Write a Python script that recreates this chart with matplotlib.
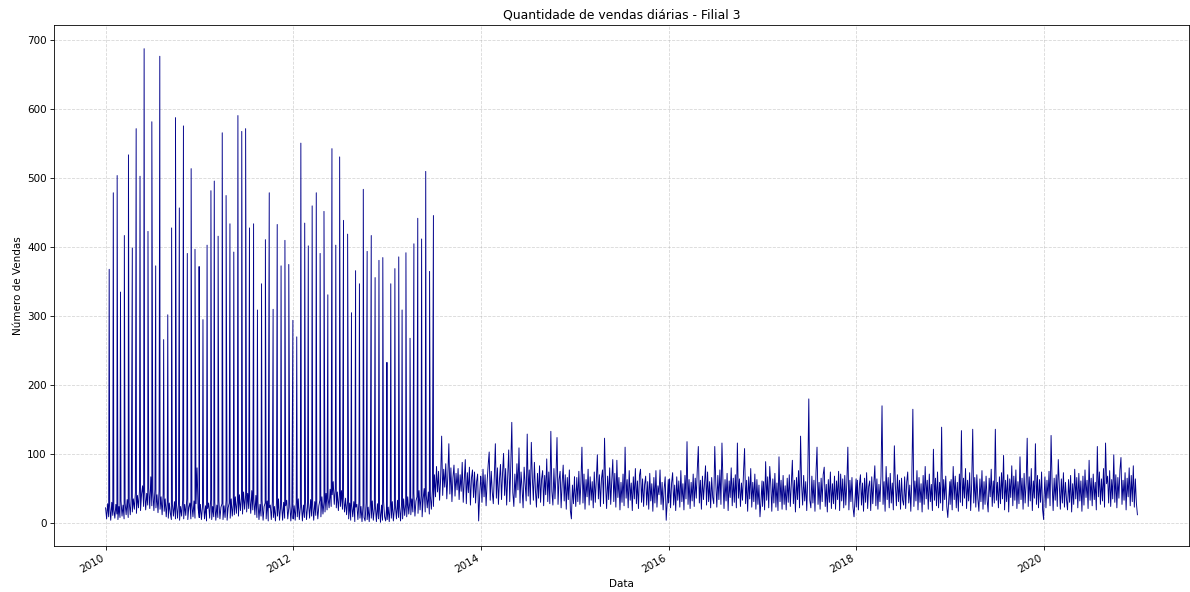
import matplotlib
matplotlib.use('Agg')
import matplotlib.pyplot as plt
import numpy as np
import pandas as pd

# vendas "de fundo", uma leitura a cada 4 dias (4 linhas = 4 trimestres por ano)
base_2010 = [22, 6, 28, 9, 25, 4, 30, 11, 20, 7, 27, 13, 5, 24, 8, 32, 10, 26, 6, 29, 12, 34, 8,
             30, 12, 38, 16, 35, 20, 44, 14, 40, 22, 48, 18, 42, 54, 24, 46, 19, 43, 26, 50, 21, 67, 25,
             45, 18, 49, 22, 41, 15, 46, 20, 38, 12, 42, 17, 35, 9, 31, 7, 29, 14, 5, 27, 10, 31, 6,
             26, 7, 30, 4, 24, 10, 33, 6, 27, 11, 35, 5, 23, 29, 6, 26, 9, 32, 7, 28, 80, 22, 8]
base_2011 = [8, 27, 5, 23, 31, 6, 25, 3, 21, 29, 7, 34, 5, 24, 9, 30, 4, 26, 8, 32, 6, 23, 28,
             5, 25, 8, 33, 4, 22, 29, 7, 35, 10, 27, 12, 38, 14, 33, 10, 41, 18, 36, 13, 45, 20, 40,
             16, 43, 21, 38, 14, 47, 19, 35, 12, 40, 8, 31, 5, 27, 10, 33, 4, 24, 29, 6, 32, 3, 22,
             26, 5, 31, 8, 24, 3, 29, 10, 35, 4, 23, 27, 4, 30, 7, 25, 33, 6, 22, 28, 3, 24, 9]
base_2012 = [6, 25, 4, 30, 9, 35, 5, 23, 28, 3, 26, 8, 32, 5, 24, 29, 7, 34, 10, 27, 4, 31, 11,
             29, 6, 25, 33, 9, 38, 13, 31, 16, 43, 19, 36, 22, 49, 24, 41, 60, 27, 50, 22, 45, 18, 42,
             24, 47, 20, 40, 16, 36, 12, 32, 6, 29, 4, 25, 9, 31, 2, 23, 27, 5, 30, 7, 24, 2, 26,
             8, 3, 29, 5, 23, 2, 27, 7, 32, 4, 21, 25, 2, 28, 6, 22, 1, 26, 4, 31, 9, 3, 24]
base_2013 = [5, 23, 2, 27, 7, 31, 3, 21, 25, 6, 33, 8, 24, 3, 29, 6, 35, 11, 27, 9, 38, 13, 31,
             12, 35, 16, 43, 10, 32, 38, 14, 47, 19, 40, 9, 35, 50, 16, 41, 22, 45, 13, 39, 20, 48, 24,
             70, 38, 82, 45, 75, 33, 64, 126, 40, 78, 52, 86, 35, 68, 115, 42, 80, 31, 66, 84, 39, 72, 48,
             79, 34, 70, 46, 88, 30, 62, 92, 28, 73, 44, 81, 26, 65, 77, 37, 74, 29, 60, 71, 3, 41, 68]
base_2014 = [66, 30, 78, 38, 70, 25, 60, 84, 103, 33, 75, 45, 28, 68, 115, 36, 80, 27, 63, 85, 34, 72, 101,
             40, 79, 26, 67, 106, 31, 82, 146, 44, 24, 71, 37, 86, 48, 109, 29, 74, 50, 22, 81, 57, 32, 129,
             39, 77, 27, 117, 65, 33, 88, 47, 23, 72, 36, 83, 30, 64, 76, 25, 69, 41, 93, 31, 74, 28, 133,
             46, 26, 79, 35, 68, 124, 27, 63, 75, 22, 58, 84, 32, 70, 20, 66, 34, 77, 18, 6, 55, 28, 67]
base_2015 = [52, 24, 66, 31, 75, 27, 58, 110, 29, 71, 20, 63, 38, 78, 26, 67, 33, 60, 22, 74, 30, 62, 99,
             35, 70, 24, 64, 77, 28, 123, 56, 21, 68, 34, 80, 27, 61, 92, 31, 72, 23, 91, 37, 66, 19, 59,
             30, 71, 25, 110, 36, 63, 22, 76, 33, 58, 18, 67, 35, 79, 28, 61, 21, 69, 78, 30, 64, 24, 56,
             68, 26, 60, 20, 72, 32, 57, 17, 66, 29, 76, 23, 54, 41, 77, 27, 59, 19, 50, 67, 4, 31, 63]
base_2016 = [29, 64, 22, 58, 73, 26, 55, 18, 67, 33, 61, 23, 76, 31, 57, 19, 69, 35, 118, 27, 63, 21, 59,
             32, 71, 24, 65, 36, 78, 111, 29, 62, 20, 68, 34, 57, 83, 26, 74, 31, 60, 22, 66, 37, 28, 111,
             58, 23, 69, 34, 77, 27, 116, 59, 21, 63, 32, 72, 18, 61, 37, 80, 25, 65, 30, 70, 22, 116, 36,
             64, 24, 58, 33, 74, 108, 28, 62, 17, 67, 35, 79, 23, 59, 31, 71, 20, 63, 27, 55, 9, 33, 61]
base_2017 = [24, 60, 19, 89, 33, 67, 22, 82, 56, 17, 64, 29, 72, 23, 58, 18, 96, 31, 62, 20, 69, 27, 54,
             19, 65, 30, 70, 24, 57, 91, 28, 62, 16, 66, 34, 76, 22, 126, 55, 26, 69, 32, 60, 18, 66, 180,
             33, 22, 68, 29, 62, 17, 73, 110, 27, 59, 20, 65, 31, 70, 81, 24, 56, 16, 63, 30, 74, 21, 57,
             28, 68, 20, 61, 34, 75, 18, 71, 32, 64, 22, 69, 26, 58, 110, 19, 62, 31, 66, 23, 9, 35, 64]
base_2018 = [23, 62, 19, 55, 70, 26, 58, 17, 65, 30, 73, 21, 53, 61, 18, 67, 28, 57, 83, 25, 64, 20, 56,
             31, 68, 170, 27, 60, 17, 82, 34, 66, 22, 72, 29, 58, 19, 112, 54, 25, 70, 31, 62, 20, 65, 33,
             26, 67, 21, 59, 74, 29, 55, 17, 64, 165, 24, 61, 32, 76, 19, 66, 30, 57, 16, 69, 27, 82, 35,
             62, 20, 71, 31, 56, 18, 107, 33, 65, 25, 74, 22, 59, 29, 139, 18, 63, 34, 68, 24, 8, 36, 60]
base_2019 = [27, 63, 19, 82, 34, 68, 22, 59, 17, 71, 30, 134, 25, 65, 36, 79, 21, 62, 32, 73, 18, 57, 136,
             29, 66, 23, 70, 35, 17, 64, 31, 76, 20, 60, 27, 68, 34, 16, 65, 38, 78, 24, 61, 29, 136, 33,
             59, 22, 67, 28, 73, 35, 98, 19, 62, 31, 70, 16, 64, 37, 83, 25, 68, 33, 77, 21, 60, 28, 96,
             34, 65, 20, 72, 29, 58, 123, 24, 67, 32, 79, 18, 61, 36, 115, 27, 69, 22, 63, 30, 74, 19, 5]
base_2020 = [31, 67, 22, 62, 36, 75, 25, 127, 58, 18, 65, 33, 70, 24, 92, 55, 20, 64, 29, 73, 23, 59, 34,
             19, 63, 30, 69, 16, 57, 27, 78, 35, 66, 22, 72, 32, 61, 17, 68, 26, 77, 37, 62, 21, 91, 33,
             65, 25, 71, 34, 59, 19, 111, 38, 74, 27, 64, 32, 79, 23, 116, 57, 68, 29, 76, 24, 63, 35, 99,
             30, 70, 22, 66, 36, 77, 95, 27, 62, 33, 73, 19, 65, 38, 80, 25, 69, 31, 83, 23, 64, 29, 12]

# picos quinzenais (dia 15 e fim do mes) de jan/2010 a jun/2013
spike_start = '2010-01'
spike_values = [368, 479, 504, 335, 417, 534, 399, 572, 503, 688,
                423, 582, 373, 677, 266, 302, 428, 588, 457, 576,
                391, 514, 397, 372, 295, 403, 482, 496, 416, 566,
                475, 434, 393, 591, 568, 572, 428, 434, 309, 347,
                411, 479, 310, 433, 373, 410, 375, 294, 270, 551,
                435, 402, 460, 479, 391, 452, 331, 543, 403, 531,
                439, 419, 305, 366, 347, 484, 394, 417, 356, 381,
                385, 233, 347, 369, 386, 309, 392, 268, 405, 442,
                412, 510, 365, 446]

yearly = {2010: base_2010, 2011: base_2011, 2012: base_2012, 2013: base_2013,
          2014: base_2014, 2015: base_2015, 2016: base_2016, 2017: base_2017,
          2018: base_2018, 2019: base_2019, 2020: base_2020}

parts = []
for year, vals in yearly.items():
    idx = pd.date_range('{}-01-01'.format(year), periods=len(vals), freq='4D')
    parts.append(pd.Series(vals, index=idx))

months = pd.date_range(spike_start, periods=len(spike_values) // 2, freq='MS')
mid = months + pd.Timedelta(days=14)
end = months + pd.offsets.MonthEnd(0)
spike_dates = sorted(list(mid) + list(end))
parts.append(pd.Series(spike_values, index=pd.DatetimeIndex(spike_dates)))

vendas = pd.concat(parts).sort_index()

plt.rcParams['path.simplify'] = False

dpi = 1190 / 16
fig, ax = plt.subplots(figsize=(16, 592 / dpi))
ax.plot(vendas.index, vendas.values, color='darkblue', linewidth=0.9)
ax.set_title('Quantidade de vendas diárias - Filial 3')
ax.set_xlabel('Data')
ax.set_ylabel('Número de Vendas')
ax.grid(True, linestyle='--', alpha=0.5)
fig.autofmt_xdate()
fig.subplots_adjust(left=54 / 1190, right=1189 / 1190, top=1 - 25 / 592, bottom=1 - 546 / 592)
fig.savefig('out.png', dpi=dpi)
